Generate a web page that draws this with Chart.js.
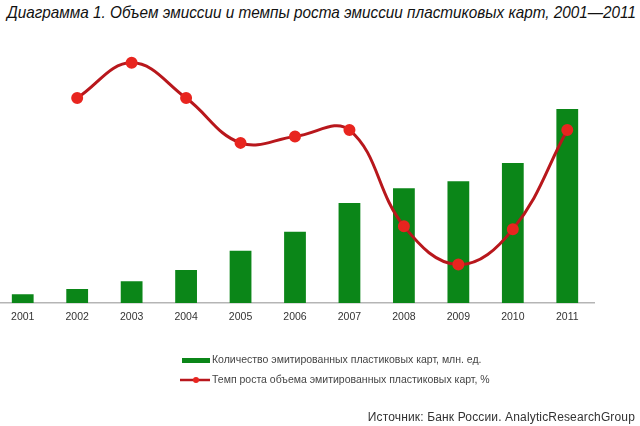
<!DOCTYPE html>
<html lang="ru">
<head>
<meta charset="utf-8">
<script src="https://cdn.jsdelivr.net/npm/chart.js@4.4.1/dist/chart.umd.min.js"></script>
<style>
  html, body { margin: 0; padding: 0; background: #fff; width: 640px; height: 426px; overflow: hidden; }
  #titulo { position: absolute; left: 7px; top: 3px; font: italic 17px "Liberation Sans", Arial, sans-serif; color: #111; white-space: nowrap; transform-origin: 0 0; }
  #fuente { position: absolute; right: 5px; top: 410px; font: 12px "Liberation Sans", Arial, sans-serif; color: #333; white-space: nowrap; letter-spacing: 0.15px; }
  #caja { position: absolute; left: -12px; top: 0; width: 670px; height: 426px; }
</style>
</head>
<body>
<div id="titulo"><span id="tituloTexto">Диаграмма 1. Объем эмиссии и темпы роста эмиссии пластиковых карт, 2001—2011</span></div>
<div id="caja"><canvas id="grafico"></canvas></div>
<div id="fuente">Источник: Банк России. AnalyticResearchGroup</div>
<script>
// datos
const anios = ['2001', '2002', '2003', '2004', '2005', '2006', '2007', '2008', '2009', '2010', '2011']
const cantidadTarjetas = [10, 16, 25, 38, 60, 82, 115, 132, 140, 161, 223]
const tempoCrecimiento = [null, 64, 75, 64, 50, 52, 54, 24, 12, 23, 54]

const etiquetaBarras = 'Количество эмитированных пластиковых карт, млн. ед.'
const etiquetaLinea = 'Темп роста объема эмитированных пластиковых карт, %'

const verde = '#0b8618'
const rojoLinea = '#b8171c'
const rojoPunto = '#e8251f'
const fuente = '"Liberation Sans", Arial, sans-serif'

// el titulo ocupa el mismo ancho que en la imagen (se mide con la fuente ya cargada)
const ajustaTitulo = () => {
    const ancho = document.getElementById('tituloTexto').getBoundingClientRect().width
    document.getElementById('titulo').style.transform = `scaleX(${629 / ancho})`
}
document.fonts.ready.then(ajustaTitulo)

// marcas de la leyenda
const marcaBarra = document.createElement('canvas')
marcaBarra.width = 28
marcaBarra.height = 5
let c = marcaBarra.getContext('2d')
c.fillStyle = verde
c.fillRect(0, 0, 28, 5)

const marcaLinea = document.createElement('canvas')
marcaLinea.width = 30
marcaLinea.height = 8
c = marcaLinea.getContext('2d')
c.strokeStyle = rojoLinea
c.lineWidth = 2.5
c.beginPath()
c.moveTo(0, 4)
c.lineTo(30, 4)
c.stroke()
c.fillStyle = rojoPunto
c.beginPath()
c.arc(16, 4, 3, 0, Math.PI * 2)
c.fill()

const marcas = [marcaBarra, marcaLinea]

// leyenda dibujada a mano, en dos filas alineadas a la izquierda
const leyendaManual = {
    id: 'leyendaManual',
    afterDraw(chart) {
        const ctx = chart.ctx
        const x = 212 + 12
        const filas = [360, 380]
        ctx.save()
        ctx.font = `10.5px ${fuente}`
        ctx.fillStyle = '#444'
        ctx.textBaseline = 'middle'
        chart.data.datasets.forEach((ds, i) => {
            const m = marcas[i]
            ctx.drawImage(m, x - 2 - m.width, filas[i] - m.height / 2)
            ctx.fillText(ds.label, x, filas[i])
        })
        ctx.restore()
    }
}

const config = {
    data: {
        labels: anios,
        datasets: [
            {
                type: 'bar',
                label: etiquetaBarras,
                data: cantidadTarjetas,
                backgroundColor: verde,
                barPercentage: 0.4,
                categoryPercentage: 1,
                yAxisID: 'y',
                order: 2,
            },
            {
                type: 'line',
                label: etiquetaLinea,
                data: tempoCrecimiento,
                borderColor: rojoLinea,
                borderWidth: 3,
                pointRadius: 4.5,
                pointBackgroundColor: rojoPunto,
                pointBorderColor: rojoPunto,
                tension: 0.4,
                yAxisID: 'y1',
                order: 1,
            },
        ]
    },
    options: {
        responsive: true,
        maintainAspectRatio: false,
        devicePixelRatio: 1,
        animation: false,
        layout: { padding: { top: 42, right: 0, bottom: 0, left: 0 } },
        plugins: {
            tooltip: { enabled: false },
            legend: { display: false },
        },
        scales: {
            x: {
                grid: { display: false, drawTicks: false },
                border: { display: true, color: '#b5b5b5', width: 1.5 },
                ticks: { color: '#333', font: { size: 10.5, family: fuente }, padding: 8 },
                afterFit: (s) => { s.height = 426 - 303 },
            },
            y: { display: false, min: 0, max: 300 },
            y1: {
                display: true,
                position: 'right',
                min: 0,
                max: 81.5,
                grid: { display: false },
                border: { display: false },
                ticks: { display: false },
                afterFit: (s) => { s.width = 63.5 },
            },
        },
    },
    plugins: [leyendaManual],
}

new Chart(document.getElementById('grafico'), config)
</script>
</body>
</html>
